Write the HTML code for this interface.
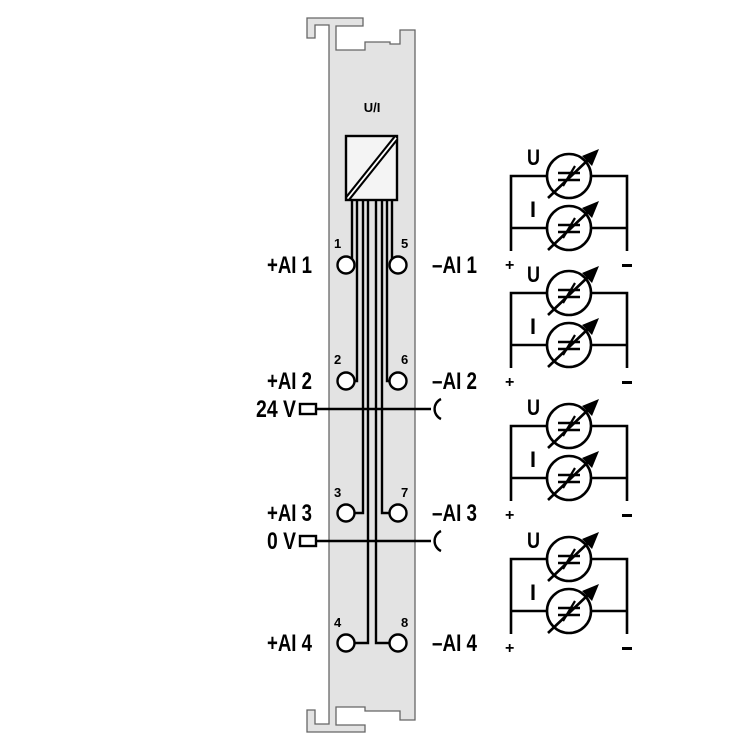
<!DOCTYPE html>
<html><head><meta charset="utf-8"><style>
html,body{margin:0;padding:0;background:#fff;}
svg{display:block}
text{font-family:"Liberation Sans",sans-serif;font-weight:bold;fill:#000}
</style></head><body>
<svg width="750" height="750" viewBox="0 0 750 750" xmlns="http://www.w3.org/2000/svg">
<defs>
<g id="meter">
 <circle cx="0" cy="0" r="22" fill="#fff" stroke="#000" stroke-width="2.6"/>
 <line x1="-11" y1="-3" x2="11" y2="-3" stroke="#000" stroke-width="2.6"/>
 <line x1="-11" y1="4" x2="11" y2="4" stroke="#000" stroke-width="2.6"/>
 <line x1="-6" y1="10" x2="6" y2="-10" stroke="#000" stroke-width="2.2"/>
 <line x1="-21" y1="22" x2="20" y2="-17" stroke="#000" stroke-width="2.6"/>
 <polygon points="30,-27 13,-20 23,-10" fill="#000"/>
</g>
<g id="grp">
 <polyline points="511,75 511,0 547,0" fill="none" stroke="#000" stroke-width="2.6"/>
 <polyline points="591,0 627,0 627,75" fill="none" stroke="#000" stroke-width="2.6"/>
 <line x1="511" y1="52" x2="547" y2="52" stroke="#000" stroke-width="2.6"/>
 <line x1="591" y1="52" x2="627" y2="52" stroke="#000" stroke-width="2.6"/>
 <use href="#meter" x="569" y="0"/>
 <use href="#meter" x="569" y="52"/>
 <text x="527" y="-11" font-size="22" textLength="13" lengthAdjust="spacingAndGlyphs">U</text>
 <text x="530" y="41" font-size="22" textLength="6" lengthAdjust="spacingAndGlyphs">I</text>
 <text x="505" y="94" font-size="16">+</text>
 <rect x="622" y="88" width="10" height="3" fill="#000"/>
</g>
<g id="pin">
 <circle cx="0" cy="0" r="8.5" fill="#fff" stroke="#000" stroke-width="2.4"/>
</g>
</defs>

<!-- module body -->
<polygon points="329,724 315,724 315,710 307,710 307,732 365,732 365,725 336,725 336,707 365,707 365,711 400,711 400,720 415,720 415,30 400,30 400,44 390,44 390,42 365,42 365,50 336,50 336,26 363,26 363,18 307,18 307,38 315,38 315,25 329,25" fill="#e3e3e3" stroke="#666" stroke-width="1.3"/>

<text x="372" y="112" font-size="13" text-anchor="middle">U/I</text>

<!-- converter box -->
<rect x="346" y="136" width="51" height="64" fill="#f4f4f4" stroke="#000" stroke-width="2.4"/>
<line x1="348" y1="198" x2="396" y2="138" stroke="#000" stroke-width="6"/>
<line x1="348" y1="198" x2="396" y2="138" stroke="#fff" stroke-width="1.8"/>

<!-- wires -->
<g fill="none" stroke="#000" stroke-width="2.4">
 <polyline points="352,200 352,265 354,265"/>
 <polyline points="357,200 357,381 354,381"/>
 <polyline points="363,200 363,513 354,513"/>
 <polyline points="368,200 368,643 354,643"/>
 <polyline points="376,200 376,643 390,643"/>
 <polyline points="382,200 382,513 390,513"/>
 <polyline points="387,200 387,381 390,381"/>
 <polyline points="392,200 392,265 390,265"/>
</g>
<!-- 24V / 0V -->
<g fill="none" stroke="#000" stroke-width="2.4">
 <line x1="316" y1="409" x2="431" y2="409"/>
 <path d="M441,399 A11,11 0 0 0 441,419"/>
 <rect x="300" y="404" width="16" height="10" fill="#fff"/>
 <line x1="316" y1="541" x2="431" y2="541"/>
 <path d="M441,531 A11,11 0 0 0 441,551"/>
 <rect x="300" y="536" width="16" height="10" fill="#fff"/>
</g>

<use href="#pin" x="346" y="265"/><use href="#pin" x="398" y="265"/>
<use href="#pin" x="346" y="381"/><use href="#pin" x="398" y="381"/>
<use href="#pin" x="346" y="513"/><use href="#pin" x="398" y="513"/>
<use href="#pin" x="346" y="643"/><use href="#pin" x="398" y="643"/>

<g font-size="13">
 <text x="334" y="248">1</text><text x="401" y="248">5</text>
 <text x="334" y="364">2</text><text x="401" y="364">6</text>
 <text x="334" y="497">3</text><text x="401" y="497">7</text>
 <text x="334" y="627">4</text><text x="401" y="627">8</text>
</g>

<g font-size="24">
 <text x="267" y="273" textLength="45" lengthAdjust="spacingAndGlyphs">+AI 1</text>
 <text x="432" y="273" textLength="45" lengthAdjust="spacingAndGlyphs">–AI 1</text>
 <text x="267" y="389" textLength="45" lengthAdjust="spacingAndGlyphs">+AI 2</text>
 <text x="432" y="389" textLength="45" lengthAdjust="spacingAndGlyphs">–AI 2</text>
 <text x="256" y="417" textLength="40" lengthAdjust="spacingAndGlyphs">24 V</text>
 <text x="267" y="521" textLength="45" lengthAdjust="spacingAndGlyphs">+AI 3</text>
 <text x="432" y="521" textLength="45" lengthAdjust="spacingAndGlyphs">–AI 3</text>
 <text x="267" y="549" textLength="29" lengthAdjust="spacingAndGlyphs">0 V</text>
 <text x="267" y="651" textLength="45" lengthAdjust="spacingAndGlyphs">+AI 4</text>
 <text x="432" y="651" textLength="45" lengthAdjust="spacingAndGlyphs">–AI 4</text>
</g>

<use href="#grp" x="0" y="176"/>
<use href="#grp" x="0" y="293"/>
<use href="#grp" x="0" y="426"/>
<use href="#grp" x="0" y="559"/>
</svg>
</body></html>
